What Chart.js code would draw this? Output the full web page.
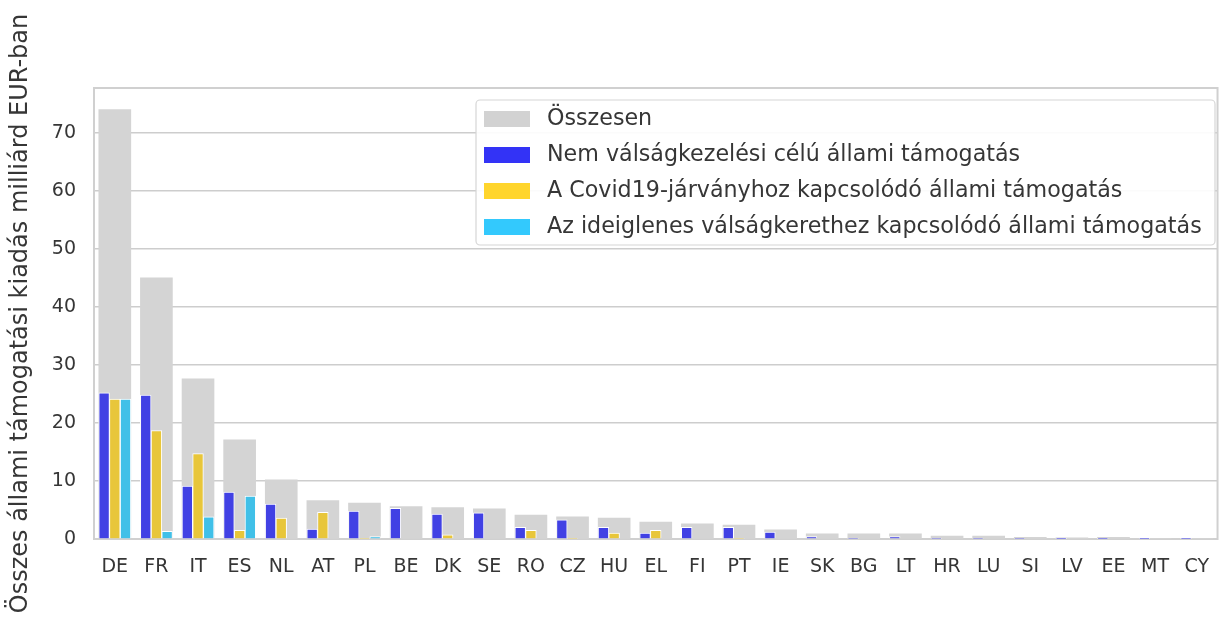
<!DOCTYPE html>
<html>
<head>
<meta charset="utf-8">
<script src="https://cdn.jsdelivr.net/npm/chart.js@4"></script>
<style>
  html, body { margin: 0; padding: 0; background: #fff; overflow: hidden; }
  #wrap { width: 1226px; height: 621px; }
</style>
</head>
<body>
<div id="wrap"><canvas id="aidChart" width="1226" height="621"></canvas></div>
<script>
// Countries (x axis)
const countries = ['DE', 'FR', 'IT', 'ES', 'NL', 'AT', 'PL', 'BE', 'DK', 'SE', 'RO', 'CZ', 'HU', 'EL',
  'FI', 'PT', 'IE', 'SK', 'BG', 'LT', 'HR', 'LU', 'SI', 'LV', 'EE', 'MT', 'CY'];

// Total state aid (grey, wide bar)
const totalAid = [74.0, 45.0, 27.6, 17.1, 10.2, 6.6, 6.2, 5.6, 5.4, 5.2, 4.1, 3.8, 3.6, 2.9,
  2.6, 2.4, 1.6, 0.9, 0.9, 0.9, 0.5, 0.5, 0.3, 0.2, 0.3, 0.1, 0.1];
// Non crisis aid (blue)
const nonCrisisAid = [25.2, 24.8, 9.1, 8.1, 6.0, 1.7, 4.8, 5.3, 4.3, 4.5, 2.0, 3.3, 2.0, 1.0,
  2.0, 2.0, 1.2, 0.4, 0.1, 0.4, 0.1, 0.1, 0.1, 0.05, 0.05, 0.05, 0.05];
// Covid-19 related aid (yellow)
const covidAid = [24.1, 18.7, 14.7, 1.5, 3.6, 4.6, 0.1, 0, 0.7, 0, 1.5, 0.1, 1.0, 1.5,
  0, 0.1, 0, 0, 0, 0, 0, 0, 0, 0, 0, 0, 0];
// Temporary framework aid (cyan)
const tempFrameworkAid = [24.1, 1.3, 3.8, 7.4, 0, 0, 0.4, 0, 0, 0, 0, 0, 0, 0,
  0, 0, 0, 0, 0, 0, 0, 0, 0, 0, 0, 0, 0];

const yTicks = [0, 10, 20, 30, 40, 50, 60, 70];

const textColor = '#363636';
const gridColor = '#cdcdcd';
const fontFamily = '"DejaVu Sans", Verdana, sans-serif';

// bar colours (plot) and the brighter swatches used in the legend box
const barColors = ['#d4d4d4', '#4141e4', '#e8c63a', '#40c0e8'];
const swatchColors = ['#d2d2d2', '#3333f6', '#ffd52c', '#33c9fd'];

// Frame around the plot area (matplotlib style spines)
const frame = {
  id: 'frame',
  beforeDatasetsDraw(chart) {
    const { ctx, chartArea: a } = chart;
    ctx.save();
    ctx.strokeStyle = '#d0d0d0';
    ctx.lineWidth = 2;
    ctx.strokeRect(a.left, a.top, a.right - a.left, a.bottom - a.top);
    ctx.restore();
  }
};

// Legend box drawn inside the plot area, top right
const boxLegend = {
  id: 'boxLegend',
  afterDatasetsDraw(chart) {
    const { ctx } = chart;
    const x = 476, y = 100, w = 739, h = 145;
    ctx.save();
    ctx.fillStyle = 'rgba(255,255,255,0.92)';
    ctx.strokeStyle = '#d6d6d6';
    ctx.lineWidth = 1.2;
    ctx.beginPath();
    ctx.roundRect(x, y, w, h, 4);
    ctx.fill();
    ctx.stroke();
    ctx.font = '22.2px ' + fontFamily;
    ctx.textBaseline = 'middle';
    chart.data.datasets.forEach((ds, i) => {
      const cy = 118 + i * 36;
      ctx.fillStyle = swatchColors[i];
      ctx.fillRect(484, cy - 7, 46, 16);
      ctx.fillStyle = textColor;
      ctx.fillText(ds.label, 547, cy + 1);
    });
    ctx.restore();
  }
};

// Stack names only decide the slot inside a category: grey shares the middle slot
// and, being wider, covers all three coloured bars.
new Chart(document.getElementById('aidChart'), {
  type: 'bar',
  data: {
    labels: countries,
    datasets: [
      {
        label: 'Összesen',
        data: totalAid,
        backgroundColor: barColors[0],
        stack: 'b',
        order: 1,
        barThickness: 32
      },
      {
        label: 'Nem válságkezelési célú állami támogatás',
        data: nonCrisisAid,
        backgroundColor: barColors[1],
        borderColor: '#ffffff',
        borderWidth: 1,
        stack: 'a',
        barThickness: 10.7
      },
      {
        label: 'A Covid19-járványhoz kapcsolódó állami támogatás',
        data: covidAid,
        backgroundColor: barColors[2],
        borderColor: '#ffffff',
        borderWidth: 1,
        stack: 'b',
        barThickness: 10.7
      },
      {
        label: 'Az ideiglenes válságkerethez kapcsolódó állami támogatás',
        data: tempFrameworkAid,
        backgroundColor: barColors[3],
        borderColor: '#ffffff',
        borderWidth: 1,
        stack: 'c',
        barThickness: 10.7
      }
    ]
  },
  options: {
    responsive: false,
    animation: false,
    layout: { padding: { top: 88, right: 0, left: 0, bottom: 0 } },
    plugins: {
      legend: { display: false },
      tooltip: { enabled: false }
    },
    scales: {
      x: {
        stacked: true,
        offset: true,
        grid: { display: false, drawTicks: false },
        border: { display: false },
        ticks: {
          color: textColor,
          padding: 17,
          maxRotation: 0,
          autoSkip: false,
          font: { family: fontFamily, size: 19 }
        },
        afterFit: (axis) => { axis.height = 82; }
      },
      y: {
        stacked: false,
        min: 0,
        max: 77.7,
        afterBuildTicks: (axis) => { axis.ticks = yTicks.map(v => ({ value: v })); },
        grid: { color: gridColor, lineWidth: 1.4, drawTicks: false },
        border: { display: false },
        ticks: {
          color: textColor,
          padding: 18,
          font: { family: fontFamily, size: 19 }
        },
        title: {
          display: true,
          text: 'Összes állami támogatási kiadás milliárd EUR-ban',
          color: textColor,
          padding: { top: 6, bottom: 0 },
          font: { family: fontFamily, size: 24 }
        },
        afterFit: (axis) => { axis.width = 94; }
      }
    }
  },
  plugins: [frame, boxLegend]
});
</script>
</body>
</html>
